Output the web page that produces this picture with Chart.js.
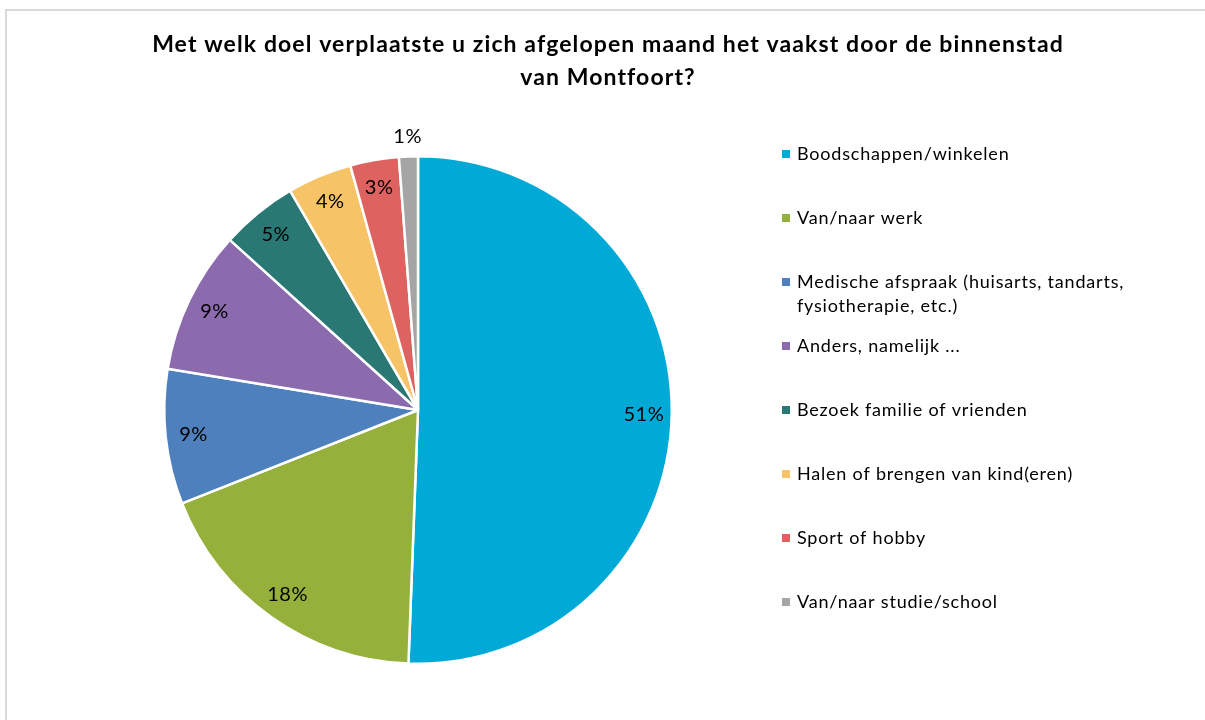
<!DOCTYPE html>
<html>
<head>
<meta charset="utf-8">
<script src="https://cdn.jsdelivr.net/npm/chart.js@4/dist/chart.umd.min.js"></script>
<style>
  html, body { margin: 0; background: #fff; }
  #wrap { width: 1205px; height: 720px; }
</style>
</head>
<body>
<div id="wrap"><canvas id="chart" width="1205" height="720"></canvas></div>
<script>
  // Data
  const titleLines = [
    "Met welk doel verplaatste u zich afgelopen maand het vaakst door de binnenstad",
    "van Montfoort?"
  ];
  const categories = [
    ["Boodschappen/winkelen"],
    ["Van/naar werk"],
    ["Medische afspraak (huisarts, tandarts,", "fysiotherapie, etc.)"],
    ["Anders, namelijk ..."],
    ["Bezoek familie of vrienden"],
    ["Halen of brengen van kind(eren)"],
    ["Sport of hobby"],
    ["Van/naar studie/school"]
  ];
  const shares = [50.6, 18.4, 8.6, 9.1, 4.9, 4.1, 3.1, 1.2];
  const colors = ["#00A9D6", "#96B03C", "#4E80BD", "#8B6BAE", "#2A7874", "#F6C366", "#DE6360", "#A5A5A5"];

  const FONT = "Lato, 'Open Sans', sans-serif";

  const decor = {
    id: "decor",
    beforeDraw(chart) {
      const ctx = chart.ctx;
      ctx.save();
      ctx.strokeStyle = "#D9D9D9";
      ctx.lineWidth = 2;
      ctx.beginPath();
      ctx.moveTo(6, 720);
      ctx.lineTo(6, 10);
      ctx.lineTo(1205, 10);
      ctx.stroke();
      ctx.restore();
    },
    afterDraw(chart) {
      const ctx = chart.ctx;
      ctx.save();
      ctx.fillStyle = "#000";
      ctx.textAlign = "center";
      ctx.textBaseline = "middle";

      // title
      ctx.font = "bold 23px " + FONT;
      ctx.letterSpacing = "1.1px";
      titleLines.forEach((t, i) => ctx.fillText(t, 608, 45 + i * 33));

      // value labels on slices
      const total = shares.reduce((s, v) => s + v, 0);
      ctx.font = "20px " + FONT;
      ctx.letterSpacing = "0.5px";
      chart.getDatasetMeta(0).data.forEach((arc, i) => {
        const pct = shares[i] / total * 100;
        const mid = (arc.startAngle + arc.endAngle) / 2;
        const r = pct >= 2 ? arc.outerRadius * 0.89 : arc.outerRadius + 20;
        ctx.fillText(Math.round(pct) + "%", arc.x + Math.cos(mid) * r, arc.y + Math.sin(mid) * r);
      });

      // legend
      ctx.textAlign = "left";
      ctx.font = "18px " + FONT;
      ctx.letterSpacing = "0.8px";
      let y = 154;
      categories.forEach((lines, i) => {
        ctx.fillStyle = colors[i];
        ctx.fillRect(782, y - 4, 8, 8);
        ctx.fillStyle = "#000";
        lines.forEach((l, j) => ctx.fillText(l, 797, y + j * 24));
        y += 64;
      });
      ctx.restore();
    }
  };

  new Chart(document.getElementById("chart"), {
    type: "pie",
    data: {
      labels: categories.map(c => c.join(" ")),
      datasets: [{
        data: shares,
        backgroundColor: colors,
        borderColor: "#fff",
        borderWidth: 2.5
      }]
    },
    options: {
      responsive: false,
      animation: false,
      layout: { padding: { left: 163, right: 532, top: 155, bottom: 55 } },
      plugins: {
        legend: { display: false },
        title: { display: false },
        tooltip: { enabled: false }
      }
    },
    plugins: [decor]
  });
</script>
</body>
</html>
